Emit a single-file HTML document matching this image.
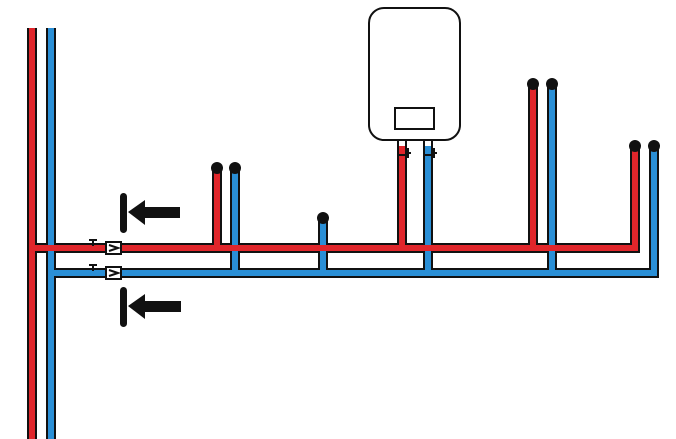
<!DOCTYPE html>
<html><head><meta charset="utf-8"><style>html,body{margin:0;padding:0;background:#fff}svg{display:block}</style></head>
<body>
<svg width="676" height="439" viewBox="0 0 676 439" xmlns="http://www.w3.org/2000/svg">
<g fill="none" stroke-linejoin="miter" stroke-linecap="butt">
<g stroke="#111" stroke-width="10">
<path d="M32 28 V439"/>
<path d="M51 28 V439"/>
<path d="M32 248 H635 V146"/>
<path d="M51 273 H654 V146"/>
<path d="M217 248 V168"/><path d="M235 273 V168"/><path d="M323 273 V218"/>
<path d="M402 248 V140"/><path d="M428 273 V140"/>
<path d="M533 248 V84"/><path d="M552 273 V84"/>
</g>
<g stroke-width="6">
<path stroke="#2a8fd6" d="M51 28 V439"/>
<path stroke="#2a8fd6" d="M51 273 H654 V146"/>
<path stroke="#2a8fd6" d="M235 273 V168"/><path stroke="#2a8fd6" d="M323 273 V218"/>
<path stroke="#2a8fd6" d="M428 273 V140"/><path stroke="#2a8fd6" d="M552 273 V84"/>
<path stroke="#e0262b" d="M32 28 V439"/>
<path stroke="#e0262b" d="M32 248 H635 V146"/>
<path stroke="#e0262b" d="M217 248 V168"/><path stroke="#e0262b" d="M402 248 V140"/>
<path stroke="#e0262b" d="M533 248 V84"/>
</g>
</g>
<g fill="#111">
<circle cx="217" cy="168" r="6"/><circle cx="235" cy="168" r="6"/>
<circle cx="323" cy="218" r="6"/>
<circle cx="533" cy="84" r="6"/><circle cx="552" cy="84" r="6"/>
<circle cx="635" cy="146" r="6"/><circle cx="654" cy="146" r="6"/>
</g>
<rect x="369" y="8" width="91" height="132" rx="15" fill="#fff" stroke="#111" stroke-width="2"/>
<rect x="395" y="108" width="39" height="21" fill="#fff" stroke="#111" stroke-width="2"/>
<rect x="399" y="141" width="6" height="5" fill="#fff"/>
<rect x="425" y="141" width="6" height="5" fill="#fff"/>
<g stroke="#111" stroke-width="2">
<path d="M398 155 H406 M408 148 V158 M406 153 H411 M424 155 H432 M434 148 V158 M432 153 H437"/>
</g>
<g stroke="#111" stroke-width="2" fill="#fff">
<path d="M89 240 H97 M93 240 V246"/>
<path d="M89 265 H97 M93 265 V271"/>
<rect x="106" y="242" width="15" height="12"/>
<rect x="106" y="267" width="15" height="12"/>
<path d="M109 245 L118 248 L109 251" fill="none"/>
<path d="M109 270 L118 273 L109 276" fill="none"/>
</g>
<g fill="#111">
<rect x="120" y="193" width="7" height="40" rx="3.5"/>
<polygon points="128,212 145,200 145,207 180,207 180,218 145,218 145,225"/>
<rect x="120" y="287" width="7" height="40" rx="3.5"/>
<polygon points="128,306 145,294 145,301 181,301 181,312 145,312 145,319"/>
</g>
</svg>
</body></html>
